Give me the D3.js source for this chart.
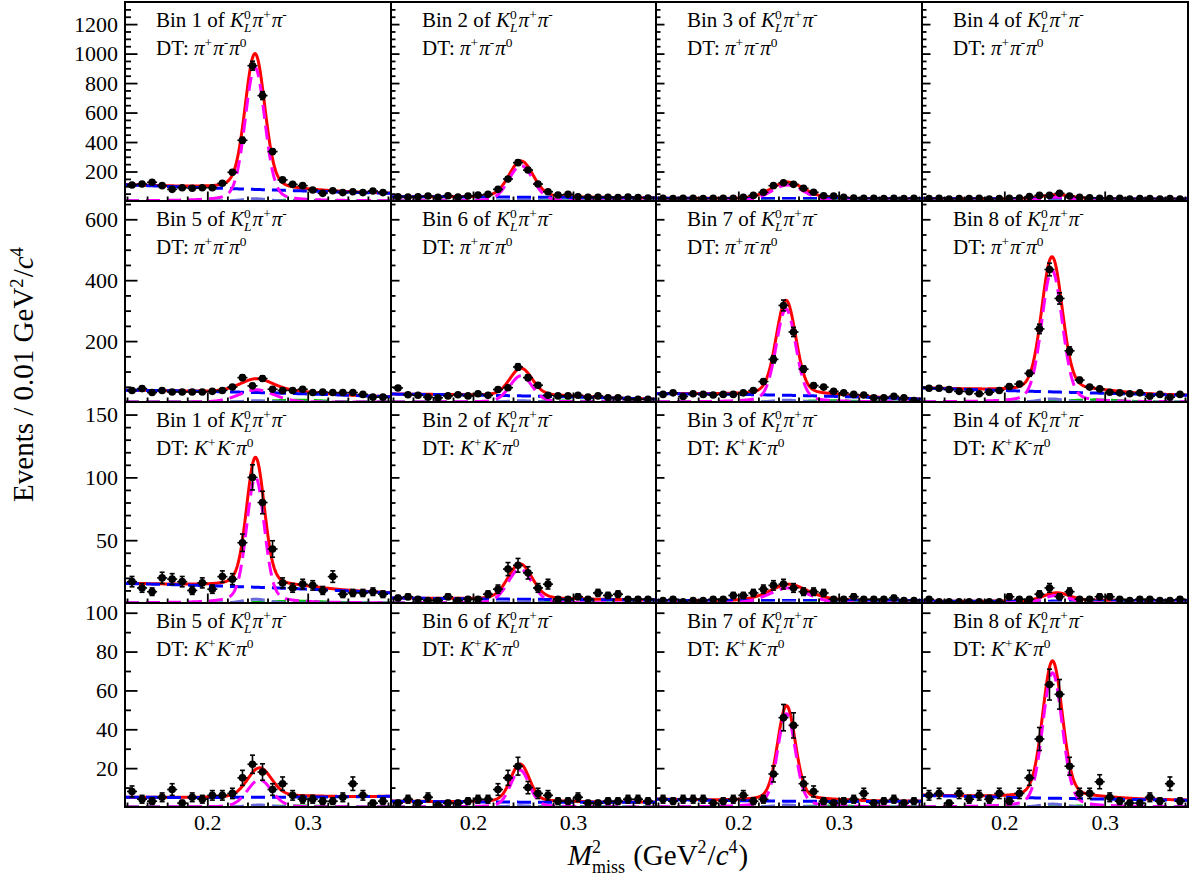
<!DOCTYPE html>
<html>
<head>
<meta charset="utf-8">
<script src="https://cdn.jsdelivr.net/npm/d3@7"></script>
<style>
  body { margin: 0; background: #ffffff; }
</style>
</head>
<body>
<svg id="chart"></svg>
<script>
const width = 1204, height = 878;
const font_family = "'Liberation Serif', 'Times New Roman', serif";
const red = "#ff0000", magenta = "#ff00ff", blue = "#0000ff", slate = "#6a6adc", green = "#00c800";

// M^2_miss bin centres (bin width 0.01 GeV^2/c^4)
const binCenters = [0.125, 0.135, 0.145, 0.155, 0.165, 0.175, 0.185, 0.195, 0.205, 0.215, 0.225, 0.235, 0.245,
                    0.255, 0.265, 0.275, 0.285, 0.295, 0.305, 0.315, 0.325, 0.335, 0.345, 0.355, 0.365, 0.375];
const xDomain = [0.118, 0.383];
const xMajor = [0.2, 0.3];
const xMinor = [0.12, 0.14, 0.16, 0.18, 0.22, 0.24, 0.26, 0.28, 0.32, 0.34, 0.36, 0.38];

// events per bin, DT: pi+ pi- pi0
const pp_bin1 = [109, 115, 127, 104, 79, 90, 86, 90, 90, 120, 195, 412, 918, 715, 335, 143, 113, 104, 75, 52, 70, 57, 63, 57, 68, 57];
const pp_bin2 = [29, 27, 29, 34, 25, 36, 27, 34, 40, 45, 79, 149, 260, 210, 115, 63, 41, 45, 29, 25, 25, 25, 23, 27, 23, 20];
const pp_bin3 = [18, 16, 18, 18, 16, 18, 18, 18, 25, 38, 59, 104, 124, 113, 86, 59, 36, 34, 25, 20, 18, 18, 16, 18, 16, 18];
const pp_bin4 = [16, 18, 14, 16, 16, 18, 14, 16, 18, 20, 30, 38, 38, 52, 34, 25, 22, 18, 16, 18, 14, 16, 16, 14, 16, 14];
const pp_bin5 = [38, 44, 31, 38, 33, 33, 33, 33, 35, 38, 49, 80, 53, 77, 42, 38, 38, 42, 31, 33, 31, 31, 31, 25, 16, 16];
const pp_bin6 = [46, 24, 22, 16, 14, 20, 24, 20, 27, 22, 41, 47, 115, 80, 55, 22, 20, 20, 22, 16, 20, 14, 14, 9, 9, 9];
const pp_bin7 = [25, 30, 18, 27, 25, 23, 25, 25, 30, 38, 67, 140, 317, 230, 108, 54, 49, 35, 30, 25, 23, 14, 14, 19, 14, 5];
const pp_bin8 = [45, 45, 41, 35, 34, 27, 32, 38, 51, 59, 94, 240, 435, 340, 168, 72, 49, 43, 32, 30, 27, 30, 19, 25, 16, 25];

// events per bin, DT: K+ K- pi0
const kk_bin1 = [17, 12, 9, 20, 19, 17, 10, 16, 11, 21, 19, 48, 100, 80, 43, 16, 12, 15, 14, 10, 21, 7, 8, 8, 9, 7];
const kk_bin2 = [4, 5, 3, 2, 2, 5, 2, 3, 3, 7, 11, 27, 30, 24, 12, 15, 3, 3, 5, 3, 8, 6, 7, 3, 3, 3];
const kk_bin3 = [2, 3, 1, 2, 2, 3, 3, 6, 6, 8, 11, 14, 15, 12, 9, 9, 8, 3, 3, 5, 3, 3, 3, 4, 2, 2];
const kk_bin4 = [3, 1, 1, 1, 1, 1, 1, 1, 5, 3, 3, 7, 12, 5, 9, 3, 3, 5, 5, 3, 2, 3, 3, 2, 2, 3];
const kk_bin5 = [8, 4, 3, 5, 9, 2, 5, 4, 6, 6, 7, 15, 22, 18, 9, 12, 6, 4, 4, 3, 3, 5, 12, 6, 2, 3];
const kk_bin6 = [2, 4, 2, 5, 1, 2, 2, 3, 4, 4, 9, 15, 21, 10, 7, 6, 3, 3, 5, 2, 2, 3, 3, 4, 4, 3];
const kk_bin7 = [4, 3, 4, 4, 4, 2, 3, 4, 6, 3, 4, 17, 46, 42, 12, 8, 3, 2, 3, 4, 7, 2, 3, 4, 2, 3];
const kk_bin8 = [6, 7, 2, 7, 4, 6, 4, 7, 3, 7, 15, 35, 63, 58, 21, 7, 7, 13, 5, 3, 2, 2, 5, 3, 12, 3];

const panelCounts = [pp_bin1, pp_bin2, pp_bin3, pp_bin4, pp_bin5, pp_bin6, pp_bin7, pp_bin8,
                     kk_bin1, kk_bin2, kk_bin3, kk_bin4, kk_bin5, kk_bin6, kk_bin7, kk_bin8];
const panelBins = [1, 2, 3, 4, 5, 6, 7, 8, 1, 2, 3, 4, 5, 6, 7, 8];
const panelTags = ["pp", "pp", "pp", "pp", "pp", "pp", "pp", "pp", "kk", "kk", "kk", "kk", "kk", "kk", "kk", "kk"];

// fit parameters, same panel order
const fitPeak  = [905, 240, 108, 26, 40, 86, 305, 432, 100, 27, 12, 6, 14, 19, 48, 69];
const fitMean  = [0.2475, 0.248, 0.249, 0.252, 0.249, 0.248, 0.2475, 0.2475, 0.248, 0.247, 0.25, 0.252, 0.252, 0.247, 0.248, 0.248];
const fitSigma = [0.0095, 0.012, 0.017, 0.015, 0.018, 0.011, 0.0095, 0.010, 0.0085, 0.012, 0.02, 0.013, 0.012, 0.009, 0.0085, 0.0095];
const bkgLeft  = [110, 29, 18, 16, 39, 26, 27, 46, 15.5, 4, 2, 1.5, 5, 3, 4, 6];
const bkgMid   = [78, 26, 17, 15, 31, 20, 22, 33, 12.5, 3, 2, 1.5, 5, 2.5, 3, 4.5];
const bkgRight = [52, 21, 15, 13, 17, 9, 9, 22, 8, 2.5, 2, 2, 5.5, 2.5, 3, 3.5];
const peakBkg  = [15, 5, 3, 1.5, 4, 4, 6, 10, 3, 1, 0.8, 0.5, 1, 0.6, 1, 1.5];
const greenBkg = [5, 2, 1.5, 1, 6, 3, 4, 7, 1.5, 0.5, 0.5, 0.5, 0.5, 0.3, 0.5, 0.6];

// y axes per row
const yMax = [1350, 660, 160, 105];
const yMajor = [[200, 400, 600, 800, 1000, 1200], [200, 400, 600], [50, 100, 150], [20, 40, 60, 80, 100]];
const yMinorStep = [50, 50, 10, 10];

// layout
const colEdges = [125, 391, 656, 922, 1188];
const rowEdges = [2, 201, 402, 603, 807];

const svg = d3.select("#chart")
  .attr("width", width)
  .attr("height", height)
  .style("font-family", font_family);

svg.append("rect").attr("width", width).attr("height", height).attr("fill", "#fff");

////////////////////////////////////
//        rich text helper        //
////////////////////////////////////
// one <text> per label, sub/superscripts placed as tspans
function richText(g, x, y, parts, size, opts = {}) {
  const supShift = opts.supShift ?? 0.36, subShift = opts.subShift ?? 0.25, scr = opts.script ?? 0.64;
  const text = g.append("text").attr("fill", "#000").style("white-space", "pre");
  let cx = x;
  parts.forEach(p => {
    if (p.t !== undefined) {
      const ts = text.append("tspan")
        .attr("x", cx).attr("y", y)
        .attr("font-size", size)
        .attr("font-style", p.it ? "italic" : "normal")
        .text(p.t.replace(/ /g, "\u00a0"));
      cx += ts.node().getComputedTextLength();
    } else {
      let w = 0;
      if (p.sup) {
        const ts = text.append("tspan")
          .attr("x", cx).attr("y", y - size * supShift)
          .attr("font-size", size * scr)
          .attr("font-style", "normal")
          .text(p.sup);
        w = Math.max(w, ts.node().getComputedTextLength());
      }
      if (p.sub) {
        const ts = text.append("tspan")
          .attr("x", cx).attr("y", y + size * subShift)
          .attr("font-size", size * scr)
          .attr("font-style", p.subIt ? "italic" : "normal")
          .text(p.sub);
        w = Math.max(w, ts.node().getComputedTextLength());
      }
      cx += w + 1;
    }
  });
  return cx - x;
}

////////////////////////////////////
//          fit shapes            //
////////////////////////////////////
const tailFrac = 0.15, tailGamma = 0.016;
function sigShape(x, mu, s) {
  const d = x - mu;
  return (1 - tailFrac) * Math.exp(-d * d / (2 * s * s)) + tailFrac / (1 + (d / tailGamma) ** 2);
}
function bkgShape(x, k) {
  // quadratic through left / middle / right levels
  const x0 = xDomain[0], x1 = 0.25, x2 = xDomain[1];
  const a = bkgLeft[k], b = bkgMid[k], c = bkgRight[k];
  return a * (x - x1) * (x - x2) / ((x0 - x1) * (x0 - x2))
       + b * (x - x0) * (x - x2) / ((x1 - x0) * (x1 - x2))
       + c * (x - x0) * (x - x1) / ((x2 - x0) * (x2 - x1));
}
function gaus(x, m, s) { return Math.exp(-(x - m) * (x - m) / (2 * s * s)); }

const xGrid = d3.range(xDomain[0], xDomain[1] + 0.00001, 0.0005);

////////////////////////////////////
//           panels               //
////////////////////////////////////
const defs = svg.append("defs");

for (let r = 0; r < 4; r++) {
  for (let c = 0; c < 4; c++) {
    const k = r * 4 + c;
    const x0 = colEdges[c], x1 = colEdges[c + 1];
    const y0 = rowEdges[r], y1 = rowEdges[r + 1];
    const xs = d3.scaleLinear().domain(xDomain).range([x0, x1]);
    const ys = d3.scaleLinear().domain([0, yMax[r]]).range([y1, y0]);
    const g = svg.append("g");

    defs.append("clipPath").attr("id", `clip${k}`)
      .append("rect").attr("x", x0).attr("y", y0).attr("width", x1 - x0).attr("height", y1 - y0);

    const plot = g.append("g").attr("clip-path", `url(#clip${k})`);

    // curves
    const mu = fitMean[k], s = fitSigma[k], A = fitPeak[k];
    const comp = {
      bkg: x => bkgShape(x, k),
      pk: x => peakBkg[k] * gaus(x, mu, 0.012),
      gr: x => greenBkg[k] * gaus(x, 0.29, 0.025),
      sig: x => A * sigShape(x, mu, s)
    };
    const total = x => comp.bkg(x) + comp.pk(x) + comp.gr(x) + comp.sig(x);
    const line = f => d3.line().x(d => xs(d)).y(d => ys(f(d)))(xGrid);

    plot.append("path").attr("d", line(total))
      .attr("fill", "none").attr("stroke", red).attr("stroke-width", 3);
    plot.append("path").attr("d", line(comp.bkg))
      .attr("fill", "none").attr("stroke", blue).attr("stroke-width", 3).attr("stroke-dasharray", "14,7");
    plot.append("path").attr("d", line(comp.gr))
      .attr("fill", "none").attr("stroke", green).attr("stroke-width", 3).attr("stroke-dasharray", "14,7");
    plot.append("path").attr("d", line(comp.pk))
      .attr("fill", "none").attr("stroke", slate).attr("stroke-width", 3).attr("stroke-dasharray", "14,7");
    plot.append("path").attr("d", line(comp.sig))
      .attr("fill", "none").attr("stroke", magenta).attr("stroke-width", 3).attr("stroke-dasharray", "14,7");

    // data points
    const counts = panelCounts[k];
    const pts = plot.selectAll("g.pt").data(counts).enter().append("g").attr("class", "pt");
    pts.append("line")
      .attr("x1", (d, i) => xs(binCenters[i] - 0.005)).attr("x2", (d, i) => xs(binCenters[i] + 0.005))
      .attr("y1", d => ys(d)).attr("y2", d => ys(d))
      .attr("stroke", "#000").attr("stroke-width", 1.6);
    pts.append("line")
      .attr("x1", (d, i) => xs(binCenters[i])).attr("x2", (d, i) => xs(binCenters[i]))
      .attr("y1", d => ys(d - Math.sqrt(d))).attr("y2", d => ys(d + Math.sqrt(d)))
      .attr("stroke", "#000").attr("stroke-width", 1.6);
    [-1, 1].forEach(sgn => {
      pts.append("line")
        .attr("x1", (d, i) => xs(binCenters[i]) - 2.5).attr("x2", (d, i) => xs(binCenters[i]) + 2.5)
        .attr("y1", d => ys(d + sgn * Math.sqrt(d))).attr("y2", d => ys(d + sgn * Math.sqrt(d)))
        .attr("stroke", "#000").attr("stroke-width", 1.6);
    });
    pts.append("circle")
      .attr("cx", (d, i) => xs(binCenters[i])).attr("cy", d => ys(d))
      .attr("r", 3.8).attr("fill", "#000");

    // axes
    const firstCol = c === 0;
    const majLen = firstCol ? 12.5 : 8.5, minLen = firstCol ? 6 : 4.5;
    const yMinor = d3.range(0, yMax[r], yMinorStep[r]).filter(v => v > 0 && !yMajor[r].includes(v));

    const yAxisMinor = g.append("g").attr("transform", `translate(${x0},0)`)
      .call(d3.axisLeft(ys).tickValues(yMinor).tickSize(-minLen).tickSizeOuter(0).tickFormat(""));
    const yAxisMajor = g.append("g").attr("transform", `translate(${x0},0)`)
      .call(d3.axisLeft(ys).tickValues(yMajor[r]).tickSize(-majLen).tickSizeOuter(0).tickPadding(7)
        .tickFormat(firstCol ? d3.format("d") : ""));

    const xAxisMinor = g.append("g").attr("transform", `translate(0,${y1})`)
      .call(d3.axisBottom(xs).tickValues(xMinor).tickSize(-4.5).tickSizeOuter(0).tickFormat(""));
    const xAxisMajor = g.append("g").attr("transform", `translate(0,${y1})`)
      .call(d3.axisBottom(xs).tickValues(xMajor).tickSize(-9.5).tickSizeOuter(0).tickPadding(7)
        .tickFormat(r === 3 ? d3.format(".1f") : ""));

    [yAxisMinor, yAxisMajor, xAxisMinor, xAxisMajor].forEach(ax => {
      ax.select(".domain").remove();
      ax.selectAll(".tick line").attr("stroke", "#000").attr("stroke-width", 1.8);
      ax.selectAll(".tick text").attr("font-family", font_family).attr("font-size", 22).attr("fill", "#000");
    });

    // frame
    g.append("rect")
      .attr("x", x0).attr("y", y0).attr("width", x1 - x0).attr("height", y1 - y0)
      .attr("fill", "none").attr("stroke", "#000").attr("stroke-width", 2);

    // labels
    const labG = g.append("g");
    richText(labG, x0 + 31, y0 + 25, [
      { t: `Bin ${panelBins[k]} of ` }, { t: "K", it: true }, { sup: "0", sub: "L", subIt: true },
      { t: "π", it: true }, { sup: "+" }, { t: "π", it: true }, { sup: "-" }
    ], 21);
    const dtParts = panelTags[k] === "pp"
      ? [{ t: "DT: " }, { t: "π", it: true }, { sup: "+" }, { t: "π", it: true }, { sup: "-" }, { t: "π", it: true }, { sup: "0" }]
      : [{ t: "DT: " }, { t: "K", it: true }, { sup: "+" }, { t: "K", it: true }, { sup: "-" }, { t: "π", it: true }, { sup: "0" }];
    richText(labG, x0 + 31, y0 + 53, dtParts, 21);
  }
}

////////////////////////////////////
//          axis titles           //
////////////////////////////////////
const titleSize = 29;
const xt = svg.append("g");
const xtw = richText(xt, 0, 0, [
  { t: "M", it: true }, { sup: "2", sub: "miss" }, { t: " (GeV" }, { sup: "2" }, { t: "/" }, { t: "c", it: true }, { sup: "4" }, { t: ")" }
], titleSize, { supShift: 0.42, subShift: 0.28, script: 0.62 });
xt.attr("transform", `translate(${658 - xtw / 2},865)`);

const yt = svg.append("g");
const ytInner = yt.append("g");
const ytw = richText(ytInner, 0, 0, [
  { t: "Events / 0.01 GeV" }, { sup: "2" }, { t: "/" }, { t: "c", it: true }, { sup: "4" }
], titleSize);
ytInner.attr("transform", `translate(${-ytw / 2},0)`);
yt.attr("transform", "translate(33,374) rotate(-90)");
</script>
</body>
</html>
